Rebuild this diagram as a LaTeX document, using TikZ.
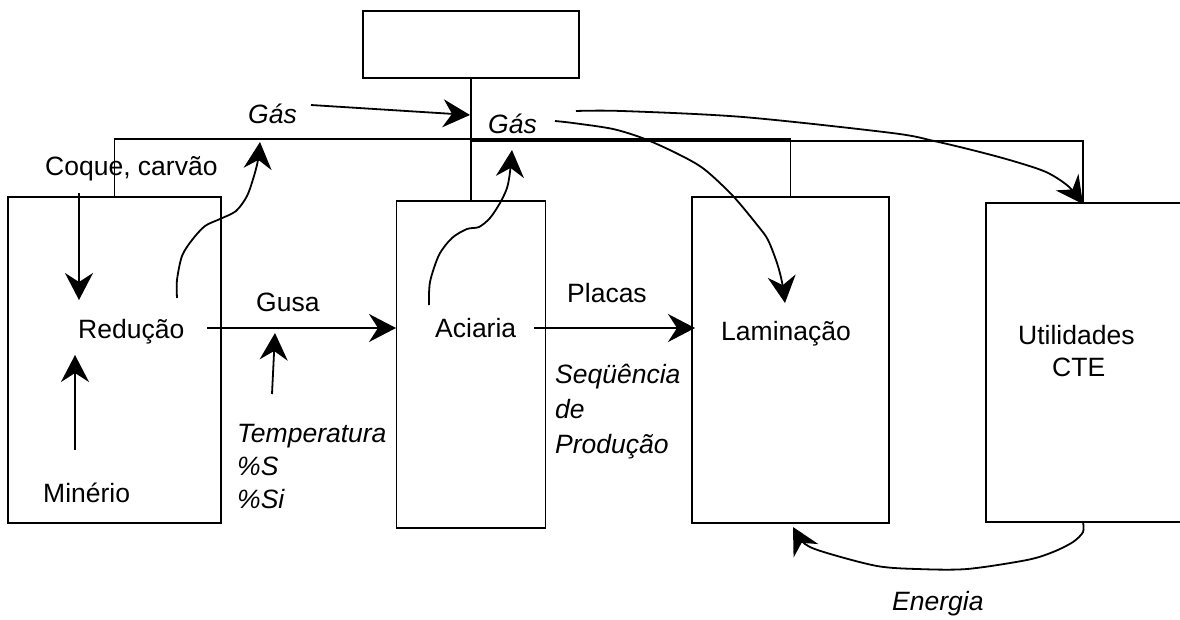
\documentclass[tikz,border=0pt]{standalone}
\usepackage{fontspec}
\setmainfont{Liberation Sans}
\usetikzlibrary{arrows.meta}
\begin{document}
\begin{tikzpicture}[x=1pt,y=-1pt,
  box/.style={draw,line width=1.6pt,inner sep=0pt},
  lbl/.style={font=\fontsize{26.5}{31}\selectfont,inner sep=0pt,anchor=base west},
  ilbl/.style={lbl,font=\fontsize{26.5}{31}\selectfont\itshape},
  flow/.style={line width=1.8pt,-{Stealth[length=27pt,width=28pt,inset=9pt]}},
  pipe/.style={line width=1.7pt}]
\useasboundingbox (0,0) rectangle (1180,619);
\clip (0,0) rectangle (1180,619);

% plant units
\node[box,minimum width=216pt,minimum height=67pt] (top) at (471,44.5) {};
\node[box,minimum width=213pt,minimum height=326pt] (red) at (114.5,360) {};
\node[box,minimum width=149pt,minimum height=327pt] (aci) at (471,364.5) {};
\node[box,minimum width=197pt,minimum height=326pt] (lam) at (790.5,360) {};
\node[box,minimum width=210pt,minimum height=319pt] (uti) at (1091,362.5) {};

% gas network
\coordinate (j) at (471,139);
\coordinate (jb) at (471,141);
\coordinate (utop) at (1083,203);
\coordinate (ubot) at (1083,522);
\draw[pipe] (top.south) -- (aci.north);
\draw[pipe] (j) -| (red.north);
\draw[pipe] (j) -| (lam.north);
\draw[pipe] (jb) -| (utop);

% labels
\node[ilbl] (gas1) at (248,123) {Gás};
\node[ilbl] (gas2) at (488,133) {Gás};
\node[lbl] (coque) at (45,175) {Coque, carvão};
\node[lbl] (lred) at (78,338) {Redução};
\node[lbl] (lmin) at (43,502) {Minério};
\node[lbl] (lgusa) at (256,311) {Gusa};
\node[ilbl] (ltemp) at (237,442) {Temperatura};
\node[ilbl] (ls) at (237,475) {\%S};
\node[ilbl] (lsi) at (237,508) {\%Si};
\node[lbl] (laci) at (435,337) {Aciaria};
\node[lbl] (lplac) at (567,302) {Placas};
\node[ilbl] (lseq) at (555,383) {Seqüência};
\node[ilbl] (lde) at (555,418) {de};
\node[ilbl] (lprod) at (555,453) {Produção};
\node[lbl] (llam) at (721,340) {Laminação};
\node[lbl] (luti) at (1018,344) {Utilidades};
\node[lbl] (lcte) at (1052,376) {CTE};
\node[ilbl] (lene) at (892,610) {Energia};

% straight flows
\coordinate (g1s) at (311,105);
\coordinate (g1e) at (470,115);
\draw[flow] (g1s) -- (g1e);
\coordinate (cs) at (79,193);
\coordinate (ce) at (79,300);
\draw[flow] (cs) -- (ce);
\coordinate (ms) at (75,450);
\coordinate (me) at (75,355);
\draw[flow] (ms) -- (me);
\coordinate (gs) at (207,328);
\coordinate (ge) at (396,328);
\draw[flow] (gs) -- (ge);
\coordinate (ts) at (272,394);
\coordinate (te) at (275,333);
\draw[flow] (ts) -- (te);
\coordinate (ps) at (534,328);
\coordinate (pe) at (695,328);
\draw[flow] (ps) -- (pe);

% gas released by the units
\coordinate (rw) at (177,298);
\draw[flow] plot[smooth,tension=0.5] coordinates {(rw) (177,280) (182,256) (192,240) (205,226) (220,219) (236,211) (247,196) (254,176) (258,160) (260,142)};
\coordinate (aw) at (429,305);
\draw[flow] plot[smooth,tension=0.5] coordinates {(aw) (430,282) (439,255) (452,238) (467,229) (479,227) (490,218) (500,203) (507,188) (510,172) (512,150)};

% gas delivered to rolling mill and utilities
\coordinate (lw) at (555,121);
\draw[flow] plot[smooth,tension=0.5] coordinates {(lw) (573,123) (613,129) (645,139) (678,154) (704,169) (733,196) (758,226) (768,240) (777,263) (782,282) (785,303)};
\coordinate (uw) at (576,111);
\draw[flow] plot[smooth,tension=0.5] coordinates {(uw) (622,111) (743,117) (892,133) (934,141) (976,151) (1013,161) (1046,172) (1068,186) (1083,204)};

% energy returned to rolling mill
\draw[flow] plot[smooth,tension=0.5] coordinates {(ubot) (1083,532) (1073,542) (1053,552) (1027,560) (967,569) (917,569) (877,566) (827,553) (805,544) (793,527)};
\end{tikzpicture}
\end{document}
